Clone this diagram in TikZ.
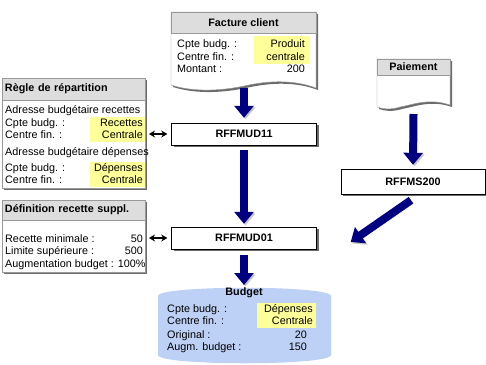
\documentclass[tikz,border=0pt]{standalone}
\usepackage{fontspec}
\setmainfont{Liberation Sans}
\usepackage{tikz}
\usetikzlibrary{positioning,arrows.meta,shadows,calc}
\definecolor{navyarrow}{RGB}{0,0,128}
\definecolor{hilite}{RGB}{255,255,153}
\definecolor{hdrgray}{RGB}{221,221,221}
\definecolor{budgetblue}{RGB}{189,208,245}
\tikzset{
 boxshadow/.style={drop shadow={shadow xshift=2pt, shadow yshift=-2pt, fill=gray!85!black, opacity=1}},
 frame/.style={draw=gray!80, fill=white, boxshadow},
 hdr/.style={draw=gray!80, fill=hdrgray, inner sep=0pt, font=\fontsize{10.8}{12}\selectfont\bfseries},
 procbox/.style={draw=black, fill=white, boxshadow, inner sep=0pt, minimum width=145pt, minimum height=22pt, font=\fontsize{10.8}{12}\selectfont\bfseries},
 lbl/.style={anchor=base west, inner sep=0pt},
 val/.style={anchor=base east, inner sep=0pt},
 bigarrow/.style={draw=navyarrow, line width=8pt, -{Triangle[width=19pt,length=12pt]},
  preaction={draw=gray!45, transform canvas={shift={(1.5pt,-1.5pt)}}}},
 dblarrow/.style={line width=1.6pt, {Stealth[length=6pt,width=7pt]}-{Stealth[length=6pt,width=7pt]}}
}

\begin{document}
\begin{tikzpicture}[x=1pt, y=-1pt, font=\fontsize{10.8}{12}\selectfont]
\useasboundingbox (0,0) rectangle (486,364);

% Facture client
\draw[frame] (171,12) -- (316,12) -- (316,88) .. controls (295,80) and (270,80) .. (244,86)
  .. controls (215,92) and (190,91) .. (171,85) -- cycle;
\node[hdr, minimum width=145pt, minimum height=21pt] (fact) at (243.5,22.5) {Facture client};
\fill[hilite] (254,36) rectangle (310,64);
\node[lbl] (fact-cpte) at (177,47.5) {Cpte budg. :};
\node[lbl] (fact-centre) at (177,60) {Centre fin. :};
\node[lbl] (fact-mont) at (177,72.5) {Montant :};
\node[val] (fact-cpte-v) at (305,47.5) {Produit};
\node[val] (fact-centre-v) at (305,60) {centrale};
\node[val] (fact-mont-v) at (305,72.5) {200};
\coordinate (fact-out) at (244,88);

% Paiement
\draw[frame] (377,59) -- (450,59) -- (450,105) .. controls (430,98) and (415,104) .. (400,107)
  .. controls (390,110) and (383,109) .. (377,107) -- cycle;
\node[hdr, minimum width=73pt, minimum height=16pt] (paie) at (413.5,67) {Paiement};
\coordinate (paie-out) at (413.5,114);

% Regle de repartition
\draw[frame] (2,78) rectangle (145,188);
\node[hdr, minimum width=143pt, minimum height=22pt, text width=137pt, align=left] (regle) at (73.5,89) {Règle de répartition};
\fill[hilite] (90,116.7) rectangle (144.5,141.7);
\fill[hilite] (90,161.7) rectangle (144.5,186.7);
\node[lbl] (regle-rec) at (5,113) {Adresse budgétaire recettes};
\node[lbl] (regle-cpte1) at (5,126.4) {Cpte budg. :};
\node[lbl] (regle-centre1) at (5,138) {Centre fin. :};
\node[lbl] (regle-dep) at (5,155.4) {Adresse budgétaire dépenses};
\node[lbl] (regle-cpte2) at (5,171) {Cpte budg. :};
\node[lbl] (regle-centre2) at (5,183.7) {Centre fin. :};
\node[val] (regle-cpte1-v) at (143,126.4) {Recettes};
\node[val] (regle-centre1-v) at (143,138) {Centrale};
\node[val] (regle-cpte2-v) at (143,171) {Dépenses};
\node[val] (regle-centre2-v) at (143,183.7) {Centrale};
\coordinate (regle-out) at (145,134);

% Definition recette suppl.
\draw[frame] (2,200) rectangle (145,272);
\node[hdr, minimum width=143pt, minimum height=20pt, text width=137pt, align=left] (defin) at (73.5,210) {Définition recette suppl.};
\node[lbl] (defin-min) at (5,242) {Recette minimale :};
\node[lbl] (defin-lim) at (5,254.5) {Limite supérieure :};
\node[lbl] (defin-aug) at (5,267) {Augmentation budget : 100\%};
\node[val] (defin-min-v) at (143,242) {50};
\node[val] (defin-lim-v) at (143,254.5) {500};
\coordinate (defin-out) at (145,238);

% programmes
\node[procbox] (mud11) at (244,134) {RFFMUD11};
\node[procbox] (mud01) at (244,238) {RFFMUD01};
\node[procbox, minimum width=144pt, minimum height=25pt] (ms200) at (413,181.5) {RFFMS200};

% Budget
\fill[budgetblue] (158,296) .. controls (158,285) and (331,285) .. (331,296) -- (331,355)
  .. controls (331,366) and (158,366) .. (158,355) -- cycle;
\fill[hilite] (257,303) rectangle (316,328);
\node[anchor=base, inner sep=0pt, font=\fontsize{10.8}{12}\selectfont\bfseries] (budget) at (244,295.5) {Budget};
\node[lbl] (budget-cpte) at (167,312) {Cpte budg. :};
\node[lbl] (budget-centre) at (167,324.5) {Centre fin. :};
\node[lbl] (budget-orig) at (167,338) {Original :};
\node[lbl] (budget-augm) at (167,350.5) {Augm. budget :};
\node[val] (budget-cpte-v) at (313,312) {Dépenses};
\node[val] (budget-centre-v) at (313,324.5) {Centrale};
\node[val] (budget-orig-v) at (307,338) {20};
\node[val] (budget-augm-v) at (307,350.5) {150};
\coordinate (budget-in) at (244,288);

% connectors
\draw[bigarrow, shorten >=5pt] (fact-out) -- (mud11.north);
\draw[bigarrow, shorten <=5pt, shorten >=3pt] (mud11.south) -- (mud01.north);
\draw[bigarrow, shorten <=6pt, shorten >=3pt] (mud01.south) -- (budget-in);
\draw[bigarrow, shorten >=4pt] (paie-out) -- (ms200.north);
\draw[bigarrow] ($(ms200.south)+(-2,6)$) -- ($(mud01.east)+(34,4)$);
\draw[dblarrow, shorten <=4pt, shorten >=4pt] (regle-out) -- (mud11.west);
\draw[dblarrow, shorten <=4pt, shorten >=4pt] (defin-out) -- (mud01.west);
\end{tikzpicture}
\end{document}
